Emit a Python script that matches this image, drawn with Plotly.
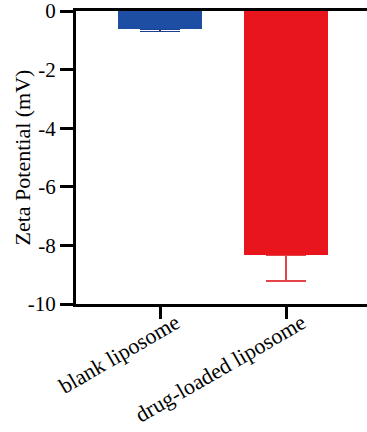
import plotly.graph_objects as go

# Zeta potential measurements (mV), mean and standard deviation
categories = ["blank liposome", "drug-loaded liposome"]
zeta_mean = [-0.62, -8.33]
zeta_sd = [0.08, 0.89]
bar_colors = ["#1d4ea3", "#e8151c"]
err_colors = ["#1b3f8c", "#e5434a"]
y_ticks = [0, -2, -4, -6, -8, -10]

serif = "Liberation Serif, Tinos, Times New Roman, DejaVu Serif, serif"

fig = go.Figure()
# error bars first (on transparent bars) so the filled bars cover their upper caps
for cat, m, sd, ec in zip(categories, zeta_mean, zeta_sd, err_colors):
    fig.add_trace(go.Bar(
        x=[cat], y=[m], width=0.667,
        marker=dict(color="rgba(0,0,0,0)", line=dict(width=0)),
        error_y=dict(type="data", symmetric=False, array=[0], arrayminus=[sd],
                     color=ec, thickness=1.6, width=20),
        showlegend=False, hoverinfo="skip",
    ))
for cat, m, bc in zip(categories, zeta_mean, bar_colors):
    fig.add_trace(go.Bar(
        x=[cat], y=[m], width=0.667,
        marker=dict(color=bc, line=dict(width=0)),
        showlegend=False,
    ))

fig.update_layout(
    width=367, height=432,
    margin=dict(l=76, r=0, t=11, b=128),
    paper_bgcolor="white", plot_bgcolor="white",
    font=dict(family=serif, color="black"),
    barmode="overlay", bargap=0,
)
fig.update_xaxes(
    range=[-0.667, 1.643], automargin=False,
    showline=True, linecolor="black", linewidth=2.5, mirror=True,
    ticks="outside", ticklen=12, tickwidth=3, tickcolor="black",
    tickangle=-30, ticklabelstandoff=-17, ticklabelshift=16, ticklabeloverflow="allow",
    tickfont=dict(family=serif, size=22, color="black"),
    showgrid=False, zeroline=False,
)
fig.update_yaxes(
    range=[-10, 0], automargin=False,
    tickvals=y_ticks, ticktext=[str(v) for v in y_ticks],
    showline=True, linecolor="black", linewidth=3,
    ticks="outside", ticklen=13, tickwidth=3, tickcolor="black",
    ticklabeloverflow="allow",
    tickfont=dict(family=serif, size=21, color="black"),
    showgrid=False, zeroline=False,
)
# y-axis title placed as a rotated annotation left of the tick labels
fig.add_annotation(
    text="Zeta Potential (mV)", textangle=-90,
    xref="paper", yref="paper", x=0, y=0.5, xshift=-54,
    xanchor="center", yanchor="middle",
    showarrow=False, font=dict(family=serif, size=22, color="black"),
)

fig.write_html("out.html")
